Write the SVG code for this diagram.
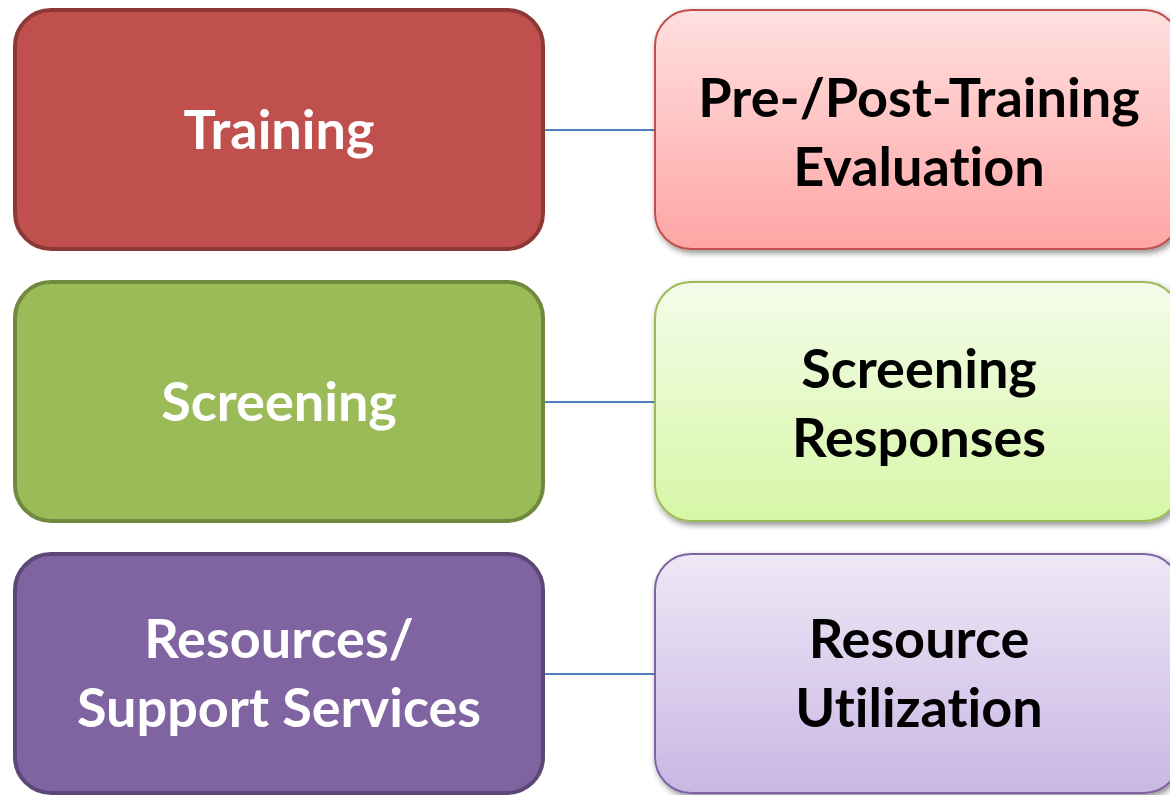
<svg xmlns="http://www.w3.org/2000/svg" width="1170" height="795" viewBox="0 0 1170 795">
<style>
.lbox{stroke-width:4}
.rbox{stroke-width:2;filter:url(#sh)}
.lt,.rt{font-family:Lato,"Liberation Sans",sans-serif;font-weight:bold;font-size:54px;text-anchor:middle;font-variant-ligatures:none;font-feature-settings:"liga" 0}
.lt{fill:#fff}
.rt{fill:#000}
.conn{stroke:#4F81BD;stroke-width:1.8;fill:none}
</style>
<defs>
<linearGradient id="gr" x1="0" y1="0" x2="0" y2="1"><stop offset="0" stop-color="#FFE0E0"/><stop offset="1" stop-color="#FFA5A5"/></linearGradient>
<linearGradient id="gg" x1="0" y1="0" x2="0" y2="1"><stop offset="0" stop-color="#F4FCEA"/><stop offset="1" stop-color="#D6F7A6"/></linearGradient>
<linearGradient id="gp" x1="0" y1="0" x2="0" y2="1"><stop offset="0" stop-color="#EEE8F6"/><stop offset="1" stop-color="#C9B7E4"/></linearGradient>
<filter id="sh" x="-10%" y="-10%" width="130%" height="130%"><feGaussianBlur in="SourceAlpha" stdDeviation="3"/><feOffset dx="2" dy="3" result="b"/><feComponentTransfer><feFuncA type="linear" slope="0.45"/></feComponentTransfer><feMerge><feMergeNode/><feMergeNode in="SourceGraphic"/></feMerge></filter>
</defs>
<g id="connectors">
<line class="conn" x1="544" y1="130" x2="655" y2="130"/>
<line class="conn" x1="544" y1="402" x2="655" y2="402"/>
<line class="conn" x1="544" y1="674" x2="655" y2="674"/>
</g>
<g id="training">
<rect class="lbox" x="15" y="10" width="528" height="239" rx="36" fill="#C0504D" stroke="#8C3836"/>
<text class="lt" x="279" y="149">Training</text>
</g>
<g id="screening">
<rect class="lbox" x="15" y="282" width="528" height="239" rx="36" fill="#9BBB59" stroke="#71893F"/>
<text class="lt" x="279" y="421">Screening</text>
</g>
<g id="resources">
<rect class="lbox" x="15" y="554" width="528" height="239" rx="36" fill="#8064A2" stroke="#5C4776"/>
<text class="lt" x="279" y="658">Resources/</text>
<text class="lt" x="279" y="727">Support Services</text>
</g>
<g id="evaluation">
<rect class="rbox" x="655" y="10" width="525" height="239" rx="36" fill="url(#gr)" stroke="#C0504D"/>
<text class="rt" x="919" y="117">Pre-/Post-Training</text>
<text class="rt" x="919" y="186">Evaluation</text>
</g>
<g id="responses">
<rect class="rbox" x="655" y="282" width="525" height="239" rx="36" fill="url(#gg)" stroke="#9BBB59"/>
<text class="rt" x="919" y="388">Screening</text>
<text class="rt" x="919" y="457">Responses</text>
</g>
<g id="utilization">
<rect class="rbox" x="655" y="554" width="525" height="239" rx="36" fill="url(#gp)" stroke="#8064A2"/>
<text class="rt" x="919" y="658">Resource</text>
<text class="rt" x="919" y="727">Utilization</text>
</g>
</svg>
